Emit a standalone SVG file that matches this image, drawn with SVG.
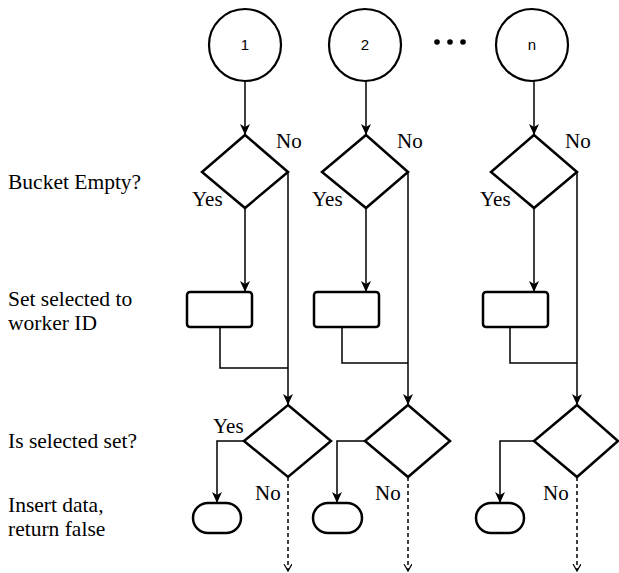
<svg xmlns="http://www.w3.org/2000/svg" width="619" height="573" viewBox="0 0 619 573">
<style>
.sh{fill:#fff;stroke:#000;stroke-width:2.5}
.ci{fill:#fff;stroke:#000;stroke-width:2.2}
.ln{fill:none;stroke:#000;stroke-width:1.5}
.da{fill:none;stroke:#000;stroke-width:1.5;stroke-dasharray:4 3}
.lb{font-family:"Liberation Serif","Times New Roman",serif;font-size:21.5px;fill:#000}
.sm{font-family:"Liberation Serif","Times New Roman",serif;font-size:21px;fill:#000}
.nm{font-family:"Liberation Sans",Arial,sans-serif;font-size:15px;fill:#000;text-anchor:middle}
</style>
<defs>
<marker id="ar" markerUnits="userSpaceOnUse" markerWidth="12" markerHeight="10" refX="11" refY="5" orient="auto">
<path d="M0,0 L11,5 L0,10 L3,5 z" fill="#000"/>
</marker>
<marker id="op" markerUnits="userSpaceOnUse" markerWidth="10" markerHeight="10" refX="7" refY="4" orient="auto">
<path d="M0,0 L7,4 L0,8" fill="none" stroke="#000" stroke-width="1.2"/>
</marker>
</defs>

<g id="labels">
<text class="lb" x="8" y="189">Bucket Empty?</text>
<text class="lb" x="8" y="306">Set selected to</text>
<text class="lb" x="8" y="330">worker ID</text>
<text class="lb" x="8" y="448">Is selected set?</text>
<text class="lb" x="8" y="512">Insert data,</text>
<text class="lb" x="8" y="536">return false</text>
</g>

<g id="connectors">
<!-- column 1 -->
<line class="ln" x1="245" y1="81" x2="245" y2="135" marker-end="url(#ar)"/>
<line class="ln" x1="245" y1="208" x2="245" y2="292" marker-end="url(#ar)"/>
<polyline class="ln" points="220,327 220,368 288,368"/>
<line class="ln" x1="288" y1="172" x2="288" y2="405" marker-end="url(#ar)"/>
<polyline class="ln" points="244,441 217,441 217,503" marker-end="url(#ar)"/>
<line class="da" x1="288" y1="477" x2="288" y2="571" marker-end="url(#op)"/>
<!-- column 2 -->
<line class="ln" x1="366" y1="81" x2="366" y2="135" marker-end="url(#ar)"/>
<line class="ln" x1="366" y1="208" x2="366" y2="292" marker-end="url(#ar)"/>
<polyline class="ln" points="342,327 342,363 408,363"/>
<line class="ln" x1="408" y1="172" x2="408" y2="405" marker-end="url(#ar)"/>
<polyline class="ln" points="365,441 337,441 337,503" marker-end="url(#ar)"/>
<line class="da" x1="408" y1="477" x2="408" y2="571" marker-end="url(#op)"/>
<!-- column 3 -->
<line class="ln" x1="534" y1="81" x2="534" y2="135" marker-end="url(#ar)"/>
<line class="ln" x1="534" y1="208" x2="534" y2="292" marker-end="url(#ar)"/>
<polyline class="ln" points="510,327 510,363 577,363"/>
<line class="ln" x1="577" y1="172" x2="577" y2="405" marker-end="url(#ar)"/>
<polyline class="ln" points="534,441 500,441 500,503" marker-end="url(#ar)"/>
<line class="da" x1="577" y1="477" x2="577" y2="571" marker-end="url(#op)"/>
</g>

<g id="start1"><circle class="ci" cx="245" cy="45" r="36"/><text class="nm" x="245" y="50">1</text></g>
<g id="start2"><circle class="ci" cx="365" cy="45" r="36"/><text class="nm" x="365" y="50">2</text></g>
<g id="startn"><circle class="ci" cx="532" cy="45" r="36"/><text class="nm" x="532" y="50">n</text></g>
<g id="ellipsis">
<circle cx="437" cy="42" r="2.8" fill="#000"/>
<circle cx="450" cy="42" r="2.8" fill="#000"/>
<circle cx="463" cy="42" r="2.8" fill="#000"/>
</g>

<g id="empty1"><polygon class="sh" points="245,135 288,172 245,208 202,172"/></g>
<g id="empty2"><polygon class="sh" points="366,135 408,172 366,208 322,172"/></g>
<g id="emptyn"><polygon class="sh" points="534,135 577,172 534,208 491,172"/></g>

<g id="set1"><rect class="sh" x="187" y="292" width="65" height="35" rx="3"/></g>
<g id="set2"><rect class="sh" x="314" y="292" width="65" height="35" rx="3"/></g>
<g id="setn"><rect class="sh" x="483" y="292" width="65" height="35" rx="3"/></g>

<g id="check1"><polygon class="sh" points="288,405 331,441 288,477 244,441"/></g>
<g id="check2"><polygon class="sh" points="408,405 450,441 408,477 365,441"/></g>
<g id="checkn"><polygon class="sh" points="577,405 618,441 577,477 534,441"/></g>

<g id="insert1"><rect class="sh" x="193" y="503" width="48" height="30" rx="15"/></g>
<g id="insert2"><rect class="sh" x="313" y="503" width="49" height="30" rx="15"/></g>
<g id="insertn"><rect class="sh" x="476" y="503" width="48" height="30" rx="15"/></g>

<g id="branch-labels">
<text class="sm" x="276" y="148">No</text>
<text class="sm" x="192" y="206">Yes</text>
<text class="sm" x="397" y="148">No</text>
<text class="sm" x="312" y="206">Yes</text>
<text class="sm" x="565" y="148">No</text>
<text class="sm" x="480" y="206">Yes</text>
<text class="sm" x="213" y="433">Yes</text>
<text class="sm" x="255" y="500">No</text>
<text class="sm" x="375" y="500">No</text>
<text class="sm" x="543" y="500">No</text>
</g>
</svg>
